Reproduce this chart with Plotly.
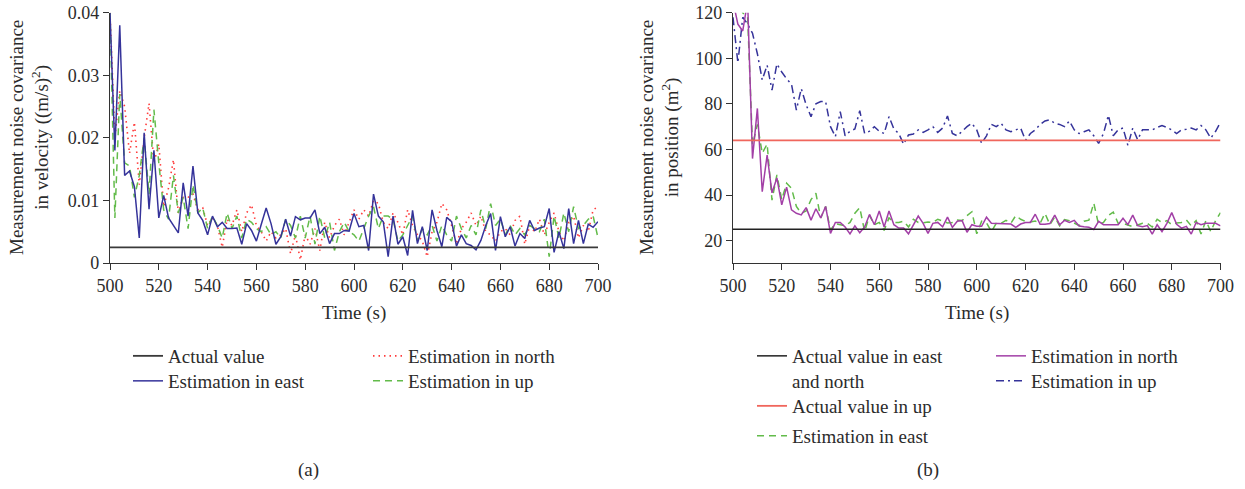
import plotly.graph_objects as go

# ---------------- data ----------------
time_s = list(range(500, 702, 2))
actual_time = [500, 700]

# (a) velocity noise covariance ((m/s)^2)
vel_actual = [0.0025, 0.0025]
vel_east = [
    0.0400, 0.0180, 0.0380, 0.0140, 0.0147, 0.0122, 0.0040, 0.0208, 0.0086, 0.0180,
    0.0072, 0.0108, 0.0072, 0.0060, 0.0048, 0.0128, 0.0075, 0.0155, 0.0080, 0.0068,
    0.0045, 0.0075, 0.0058, 0.0065, 0.0055, 0.0055, 0.0056, 0.0030, 0.0063, 0.0052,
    0.0035, 0.0062, 0.0088, 0.0063, 0.0030, 0.0042, 0.0070, 0.0043,
    0.0074, 0.0069, 0.0072, 0.0072, 0.0085, 0.0047, 0.0057, 0.0031, 0.0047, 0.0047,
    0.0052, 0.0051, 0.0079, 0.0058, 0.0060, 0.0020, 0.0110, 0.0075, 0.0066, 0.0010,
    0.0075, 0.0030, 0.0042, 0.0012, 0.0084, 0.0031, 0.0058, 0.0020, 0.0085, 0.0052,
    0.0026, 0.0073, 0.0066, 0.0027, 0.0045, 0.0031, 0.0028, 0.0021, 0.0036, 0.0060,
    0.0079, 0.0020, 0.0074, 0.0042, 0.0058, 0.0027, 0.0047, 0.0039, 0.0068, 0.0052,
    0.0056, 0.0058, 0.0087, 0.0017, 0.0050, 0.0023, 0.0087, 0.0031, 0.0068, 0.0031,
    0.0062, 0.0057, 0.0066,
]
vel_north = [
    0.0400, 0.0200, 0.0275, 0.0250, 0.0175, 0.0225, 0.0125, 0.0200, 0.0255, 0.0160,
    0.0190, 0.0090, 0.0120, 0.0165, 0.0080, 0.0105, 0.0105, 0.0110, 0.0085, 0.0088,
    0.0060, 0.0072, 0.0060, 0.0025, 0.0070, 0.0060, 0.0085, 0.0050, 0.0080, 0.0093,
    0.0060, 0.0050, 0.0035, 0.0050, 0.0040, 0.0045, 0.0055, 0.0015, 0.0045, 0.0005,
    0.0045, 0.0030, 0.0055, 0.0020, 0.0065, 0.0040, 0.0060, 0.0070, 0.0045, 0.0065,
    0.0085, 0.0070, 0.0085, 0.0075, 0.0100, 0.0095, 0.0065, 0.0055, 0.0080, 0.0065,
    0.0045, 0.0085, 0.0060, 0.0045, 0.0035, 0.0010, 0.0050, 0.0065, 0.0095, 0.0085,
    0.0060, 0.0030, 0.0055, 0.0065, 0.0080, 0.0060, 0.0075, 0.0050, 0.0045, 0.0035,
    0.0050, 0.0055, 0.0045, 0.0068, 0.0075, 0.0030, 0.0060, 0.0050, 0.0070, 0.0045,
    0.0065, 0.0080, 0.0050, 0.0035, 0.0065, 0.0075, 0.0040, 0.0060, 0.0050, 0.0085,
    0.0090,
]
vel_up = [
    0.0400, 0.0072, 0.0270, 0.0160, 0.0155, 0.0105, 0.0140, 0.0200, 0.0110, 0.0245,
    0.0160, 0.0085, 0.0070, 0.0140, 0.0080, 0.0105, 0.0055, 0.0125, 0.0080, 0.0088,
    0.0055, 0.0075, 0.0060, 0.0040, 0.0080, 0.0055, 0.0075, 0.0040, 0.0070, 0.0065,
    0.0055, 0.0050, 0.0058, 0.0045, 0.0050, 0.0040, 0.0070, 0.0060, 0.0040, 0.0075,
    0.0040, 0.0075, 0.0030, 0.0075, 0.0040, 0.0065, 0.0020, 0.0050, 0.0065, 0.0050,
    0.0045, 0.0035, 0.0055, 0.0075, 0.0090, 0.0055, 0.0075, 0.0075, 0.0070, 0.0035,
    0.0045, 0.0060, 0.0075, 0.0035, 0.0055, 0.0045, 0.0060, 0.0035, 0.0060, 0.0045,
    0.0035, 0.0075, 0.0055, 0.0040, 0.0060, 0.0045, 0.0085, 0.0055, 0.0095, 0.0060,
    0.0070, 0.0045, 0.0060, 0.0045, 0.0055, 0.0045, 0.0060, 0.0055, 0.0050, 0.0070,
    0.0010, 0.0075, 0.0040, 0.0080, 0.0050, 0.0090, 0.0055, 0.0060, 0.0070, 0.0075,
    0.0040,
]

# (b) position noise covariance (m^2)
pos_actual_en = [25, 25]
pos_actual_up = [64, 64]
pos_east = [
    125, 125, 120, 118, 62, 71, 58.3, 62.4, 37.8, 48.8,
    38, 45.2, 43, 35, 32, 33, 38, 40.8, 30, 35,
    24.7, 27.5, 27, 26.5, 28, 32, 34.5, 24, 31, 27,
    28, 24.5, 30, 28, 28, 28.5, 26, 29.4, 28, 27.8,
    28.2, 28, 29.4, 28.5, 27.8, 28, 29, 28.8, 31, 32.7,
    23, 28.5, 27.8, 24, 27.6, 27.6, 28.9, 27.6, 31, 29.4,
    28.4, 28.2, 28.6, 27.6, 32, 27, 30.4, 26.5, 29.2, 28.8,
    27.6, 26.6, 28.5, 29, 36.5, 27, 28, 31, 32.5, 27.6,
    27.6, 26.9, 26.1, 26.9, 27.6, 27.6, 26, 29.4, 27.9, 28.8,
    27, 27.8, 28, 29.1, 26.5, 28.8, 22.9, 28.8, 24, 28.8,
    32.3,
]
pos_north = [
    125, 115, 112, 125, 56, 78, 41.5, 57.5, 41, 47.5,
    35.7, 43.5, 33.5, 32, 31.3, 34.5, 29, 34, 30, 35,
    23.2, 28, 28, 26, 23, 26.5, 23.5, 26, 31.5, 27,
    33, 26, 33, 27, 25.5, 25.5, 23, 27, 30.8, 27.6,
    23.2, 27.6, 28, 26.1, 30.3, 25.8, 28.5, 28.8, 23.7, 27,
    26.3, 26.3, 30.3, 27.6, 27.6, 27.6, 27.3, 27.3, 25.8, 27.3,
    28, 28, 31.6, 27.2, 27.2, 27.5, 31.2, 27, 28.9, 28,
    28.9, 26.4, 26.1, 25.9, 24.9, 28.5, 27, 27, 27, 27,
    29.8, 27, 31.2, 26.6, 26.1, 26.6, 22.9, 27, 24, 27.6,
    32.3, 27.2, 25.5, 26.3, 22.9, 28, 27, 27.6, 27.6, 27.6,
    26.5,
]
pos_up = [
    118, 98, 118, 115, 111, 102, 90.5, 97, 86, 97.5,
    94, 91, 88.6, 77.3, 86.7, 79.6, 74.4, 80, 81, 81,
    70, 65.6, 76.6, 66, 68, 69, 77, 67, 68, 70,
    68, 67, 74.4, 69, 67, 62.3, 66.4, 66.8, 68.6, 67.5,
    68.6, 70, 67.5, 69.4, 74.7, 67, 66, 68, 70, 71.5,
    68.6, 62.7, 66, 71, 70, 71.5, 68.6, 67.8, 68.6, 69.4,
    64, 67, 68.6, 71, 72.5, 73, 71.5, 71, 70, 72.5,
    68.6, 67, 67.8, 68.6, 66, 62.7, 67, 75, 66, 68.6,
    69.4, 61.8, 69.4, 64.3, 68.6, 68.6, 68.6, 69.7, 70.5, 69.7,
    68.6, 67, 68.6, 68.9, 69.4, 68.6, 70.5, 68.6, 65, 68,
    72,
]

vel_ticks = [0, 0.01, 0.02, 0.03, 0.04]
vel_ticktext = ["0", "0.01", "0.02", "0.03", "0.04"]
pos_ticks = [20, 40, 60, 80, 100, 120]
time_ticks = [500, 520, 540, 560, 580, 600, 620, 640, 660, 680, 700]

# ---------------- styling ----------------
W, H = 1245, 489
FONT = "Liberation Serif"
TXT = "#2b2b2b"
AX = "#333333"
FS = 19      # legend / titles
FS_TICK = 18

C_BLACK = "#3a3a3a"
C_NAVY = "#35339a"
C_RED = "#ff3b3b"
C_GREEN = "#62bb4a"
C_SALMON = "#f0665c"
C_PURPLE = "#a23fa6"

fig = go.Figure()


def add(x, y, name, color, dash, width, xa, ya, legend):
    fig.add_trace(go.Scatter(
        x=x, y=y, mode="lines", name=name, showlegend=True,
        line=dict(color=color, dash=dash, width=width),
        xaxis=xa, yaxis=ya, legend=legend,
    ))


# (a)
add(time_s, vel_north, "Estimation in north", C_RED, "1.5px,4px", 1.6, "x", "y", "legend3")
add(time_s, vel_up, "Estimation in up", C_GREEN, "7px,5px", 1.5, "x", "y", "legend4")
add(time_s, vel_east, "Estimation in east", C_NAVY, "solid", 1.5, "x", "y", "legend2")
add(actual_time, vel_actual, "Actual value", C_BLACK, "solid", 1.8, "x", "y", "legend")

# (b)
add(time_s, pos_up, "Estimation in up", C_NAVY, "8px,4px,2px,4px", 1.5, "x2", "y2", "legend9")
add(time_s, pos_east, "Estimation in east", C_GREEN, "7px,5px", 1.5, "x2", "y2", "legend7")
add(time_s, pos_north, "Estimation in north", C_PURPLE, "solid", 1.5, "x2", "y2", "legend8")
add(actual_time, pos_actual_up, "Actual value in up", C_SALMON, "solid", 1.8, "x2", "y2", "legend6")
add(actual_time, pos_actual_en, "Actual value in east<br>and north", "#222222", "solid", 1.5, "x2", "y2", "legend5")


def px_x(p):
    return p / W


def px_y(p):
    return 1 - p / H


axis_common = dict(
    showgrid=False, zeroline=False, showline=True, linecolor=AX, linewidth=1.3,
    ticks="outside", ticklen=6, tickwidth=1.3, tickcolor=AX, automargin=False,
    tickfont=dict(family=FONT, size=FS_TICK, color=TXT),
)

ydom = [px_y(263), px_y(12.7)]

fig.update_layout(
    width=W, height=H,
    margin=dict(l=0, r=0, t=0, b=0, autoexpand=False),
    paper_bgcolor="white", plot_bgcolor="white",
    showlegend=True,
    font=dict(family=FONT, size=FS, color=TXT),
    xaxis=dict(domain=[px_x(110), px_x(598)], range=[500, 700], tickvals=time_ticks,
               anchor="y", **axis_common),
    yaxis=dict(domain=ydom, range=[0, 0.04], tickvals=vel_ticks, ticktext=vel_ticktext,
               anchor="x", **axis_common),
    xaxis2=dict(domain=[px_x(733), px_x(1220.5)], range=[500, 700], tickvals=time_ticks,
                anchor="y2", **axis_common),
    yaxis2=dict(domain=ydom, range=[10.2, 120], tickvals=pos_ticks,
                anchor="x2", **axis_common),
)

# legends: one per entry, placed to match the reference layout
LX = 41   # approx offset from legend left edge to text start
LY = 20   # approx offset from legend top to first text line centre


def legend_at(text_x, text_y, valign="middle"):
    return dict(
        x=px_x(text_x - LX), y=px_y(text_y - LY), xanchor="left", yanchor="top",
        xref="paper", yref="paper", bgcolor="rgba(0,0,0,0)", borderwidth=0,
        font=dict(family=FONT, size=FS, color=TXT), valign=valign,
    )


fig.update_layout(
    legend=legend_at(169, 357),
    legend2=legend_at(169, 382),
    legend3=legend_at(409, 357),
    legend4=legend_at(409, 382),
    legend5=legend_at(793, 357, "top"),
    legend6=legend_at(793, 407),
    legend7=legend_at(793, 437),
    legend8=legend_at(1032, 357),
    legend9=legend_at(1032, 382),
)

ann = [
    dict(text="Measurement noise covariance<br>in velocity ((m/s)<sup>2</sup>)",
         x=px_x(30), y=px_y(138), textangle=-90),
    dict(text="Measurement noise covariance<br>in position (m<sup>2</sup>)",
         x=px_x(660), y=px_y(138), textangle=-90),
    dict(text="Time (s)", x=px_x(354), y=px_y(313)),
    dict(text="Time (s)", x=px_x(977), y=px_y(313)),
    dict(text="(a)", x=px_x(308), y=px_y(470)),
    dict(text="(b)", x=px_x(928), y=px_y(470)),
]
for a in ann:
    a.update(xref="paper", yref="paper", showarrow=False, xanchor="center", yanchor="middle",
             font=dict(family=FONT, size=FS, color=TXT))
fig.update_layout(annotations=ann)

fig.write_html("out.html")
